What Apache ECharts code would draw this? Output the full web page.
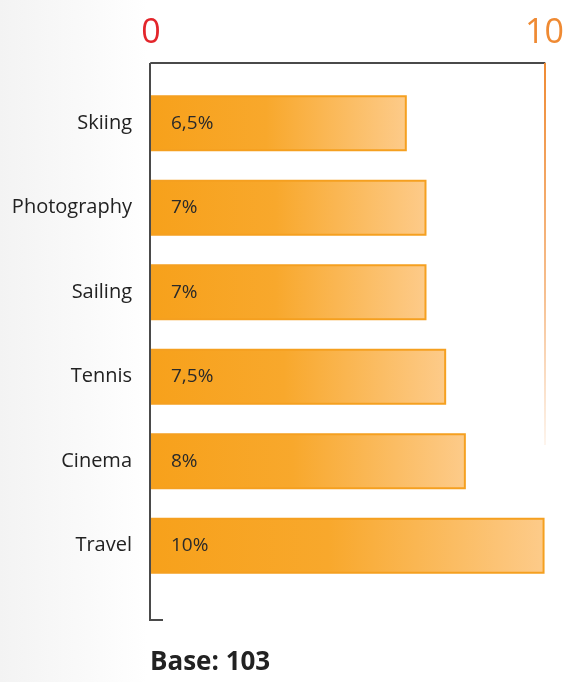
<!DOCTYPE html>
<html>
<head>
<meta charset="utf-8">
<script src="https://cdn.jsdelivr.net/npm/echarts@6/dist/echarts.min.js"></script>
<style>
  html, body { margin: 0; padding: 0; background: #fff; }
  #chart { width: 567px; height: 682px; }
</style>
</head>
<body>
<div id="chart"></div>
<script>
// Hobby shares (%), top to bottom
var categories = ['Skiing', 'Photography', 'Sailing', 'Tennis', 'Cinema', 'Travel'];
var shares = [6.5, 7, 7, 7.5, 8, 10];
var axisMin = 0;
var axisMax = 10;
var baseText = 'Base: 103';

var FONT = '"Open Sans", "Noto Sans", sans-serif';

var chart = echarts.init(document.getElementById('chart'), null, { renderer: 'canvas' });

var barFill = new echarts.graphic.LinearGradient(0, 0, 1, 0, [
  { offset: 0, color: '#f7a11b' },
  { offset: 0.45, color: '#f8a82c' },
  { offset: 1, color: '#fdcb8a' }
]);

chart.setOption({
  animation: false,
  backgroundColor: new echarts.graphic.LinearGradient(0, 0, 1, 0, [
    { offset: 0, color: '#f3f3f3' },
    { offset: 0.2, color: '#fcfcfc' },
    { offset: 0.26, color: '#ffffff' },
    { offset: 1, color: '#ffffff' }
  ]),
  grid: { left: 151, right: 22, top: 81, bottom: 94 },
  title: {
    text: baseText,
    left: 150,
    top: 650,
    padding: 0,
    textStyle: { fontFamily: FONT, fontSize: 26, fontWeight: 'bold', color: '#222' }
  },
  xAxis: {
    type: 'value',
    position: 'top',
    offset: 18,
    min: axisMin,
    max: axisMax,
    interval: 10,
    splitLine: { show: false },
    axisTick: { show: false },
    axisLine: { show: true, lineStyle: { color: '#4a4a4a', width: 2 } },
    axisLabel: {
      margin: 13,
      fontFamily: FONT,
      fontSize: 34,
      formatter: function (v) { return v === axisMin ? '{lo|' + v + '}' : '{hi|' + v + '}'; },
      rich: {
        lo: { color: '#e3252b', fontFamily: FONT, fontSize: 34 },
        hi: { color: '#ef8a33', fontFamily: FONT, fontSize: 34 }
      }
    }
  },
  yAxis: {
    type: 'category',
    inverse: true,
    data: categories,
    axisLine: { show: false },
    axisTick: { show: false },
    axisLabel: { margin: 19, fontFamily: FONT, fontSize: 20, color: '#222' }
  },
  series: [{
    type: 'bar',
    data: shares,
    barWidth: 56,
    itemStyle: { color: barFill, borderColor: '#f5a020', borderWidth: 2 },
    label: {
      show: true,
      position: 'insideLeft',
      distance: 20,
      fontFamily: FONT,
      fontSize: 19,
      color: '#2a2a2a',
      formatter: function (p) { return String(p.value).replace('.', ',') + '%'; }
    }
  }],
  graphic: [
    {
      // left axis with a short foot at the bottom
      type: 'polyline',
      shape: { points: [[150, 63], [150, 620], [163, 620]] },
      style: { stroke: '#4a4a4a', lineWidth: 2, fill: null },
      z: 10
    },
    {
      // fading reference line at the axis maximum
      type: 'line',
      shape: { x1: 545, y1: 63, x2: 545, y2: 445 },
      style: {
        stroke: new echarts.graphic.LinearGradient(0, 0, 0, 1, [
          { offset: 0, color: 'rgba(239,138,51,1)' },
          { offset: 0.6, color: 'rgba(239,138,51,0.55)' },
          { offset: 1, color: 'rgba(239,138,51,0.08)' }
        ]),
        lineWidth: 2
      },
      z: 1
    }
  ]
});
</script>
</body>
</html>
